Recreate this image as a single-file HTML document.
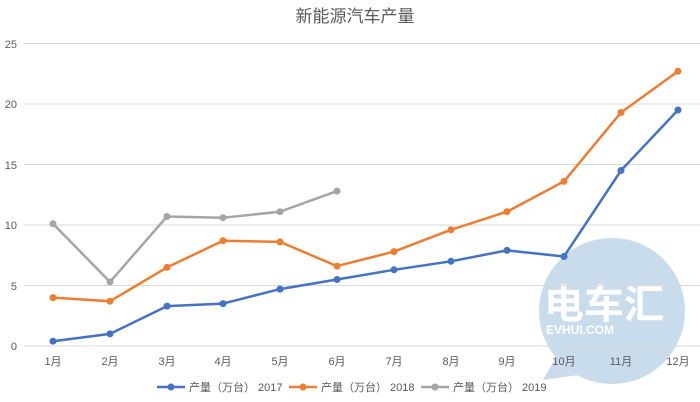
<!DOCTYPE html>
<html><head><meta charset="utf-8"><style>
html,body{margin:0;padding:0;background:#fff;}
svg{display:block;font-family:"Liberation Sans","Noto Sans CJK SC",sans-serif;}
</style></head><body>
<svg width="700" height="402" viewBox="0 0 700 402" xmlns="http://www.w3.org/2000/svg">
<rect width="700" height="402" fill="#fff"/>
<!-- watermark bubble -->
<g fill="#c9dcec">
<circle cx="612" cy="311" r="73"/>
<polygon points="560,350 543,380 600,372"/>
</g>
<text x="604" y="318" text-anchor="middle" font-size="40" font-weight="bold" fill="#fff">电车汇</text>
<text x="580" y="334" text-anchor="middle" font-size="12" font-weight="bold" fill="#fff">EVHUI.COM</text>
<text x="355" y="22" text-anchor="middle" font-size="17" fill="#595959">新能源汽车产量</text>
<g stroke="#d9d9d9" stroke-width="1">
<line x1="24" y1="43.5" x2="700" y2="43.5"/>
<line x1="24" y1="104" x2="700" y2="104"/>
<line x1="24" y1="164.5" x2="700" y2="164.5"/>
<line x1="24" y1="225" x2="700" y2="225"/>
<line x1="24" y1="285.5" x2="700" y2="285.5"/>
<line x1="24" y1="346" x2="700" y2="346"/>
</g>
<g font-size="11" fill="#595959" text-anchor="end">
<text x="17" y="48">25</text><text x="17" y="108">20</text><text x="17" y="169">15</text>
<text x="17" y="229">10</text><text x="17" y="290">5</text><text x="17" y="350">0</text>
</g>
<g font-size="11" fill="#595959" text-anchor="middle">
<text x="53" y="365">1月</text><text x="110" y="365">2月</text><text x="167" y="365">3月</text>
<text x="223" y="365">4月</text><text x="280" y="365">5月</text><text x="337" y="365">6月</text>
<text x="394" y="365">7月</text><text x="451" y="365">8月</text><text x="507" y="365">9月</text>
<text x="564" y="365">10月</text><text x="621" y="365">11月</text><text x="678" y="365">12月</text>
</g>
<g fill="none" stroke-width="2.5" stroke-linejoin="round">
<polyline stroke="#4472c4" points="53,341.2 110,333.9 167,306.1 223,303.6 280,289.1 337,279.5 394,269.8 451,261.3 507,250.4 564,256.5 621,170.5 678,110"/>
<polyline stroke="#ed7d31" points="53,297.6 110,301.2 167,267.4 223,240.7 280,241.9 337,266.1 394,251.6 451,229.8 507,211.7 564,181.4 621,112.5 678,71.3"/>
<polyline stroke="#a5a5a5" points="53,223.8 110,281.9 167,216.5 223,217.7 280,211.7 337,191.1"/>
</g>
<g fill="#4472c4">
<circle cx="53" cy="341.2" r="3.5"/><circle cx="110" cy="333.9" r="3.5"/><circle cx="167" cy="306.1" r="3.5"/><circle cx="223" cy="303.6" r="3.5"/><circle cx="280" cy="289.1" r="3.5"/><circle cx="337" cy="279.5" r="3.5"/><circle cx="394" cy="269.8" r="3.5"/><circle cx="451" cy="261.3" r="3.5"/><circle cx="507" cy="250.4" r="3.5"/><circle cx="564" cy="256.5" r="3.5"/><circle cx="621" cy="170.5" r="3.5"/><circle cx="678" cy="110" r="3.5"/>
</g>
<g fill="#ed7d31">
<circle cx="53" cy="297.6" r="3.5"/><circle cx="110" cy="301.2" r="3.5"/><circle cx="167" cy="267.4" r="3.5"/><circle cx="223" cy="240.7" r="3.5"/><circle cx="280" cy="241.9" r="3.5"/><circle cx="337" cy="266.1" r="3.5"/><circle cx="394" cy="251.6" r="3.5"/><circle cx="451" cy="229.8" r="3.5"/><circle cx="507" cy="211.7" r="3.5"/><circle cx="564" cy="181.4" r="3.5"/><circle cx="621" cy="112.5" r="3.5"/><circle cx="678" cy="71.3" r="3.5"/>
</g>
<g fill="#a5a5a5">
<circle cx="53" cy="223.8" r="3.5"/><circle cx="110" cy="281.9" r="3.5"/><circle cx="167" cy="216.5" r="3.5"/><circle cx="223" cy="217.7" r="3.5"/><circle cx="280" cy="211.7" r="3.5"/><circle cx="337" cy="191.1" r="3.5"/>
</g>
<g font-size="11" fill="#595959">
<line x1="157" y1="387" x2="185" y2="387" stroke="#4472c4" stroke-width="2.5"/><circle cx="171" cy="387" r="3.5" fill="#4472c4"/>
<text x="189" y="391">产量（万台） 2017</text>
<line x1="289" y1="387" x2="317" y2="387" stroke="#ed7d31" stroke-width="2.5"/><circle cx="303" cy="387" r="3.5" fill="#ed7d31"/>
<text x="321" y="391">产量（万台） 2018</text>
<line x1="421" y1="387" x2="449" y2="387" stroke="#a5a5a5" stroke-width="2.5"/><circle cx="435" cy="387" r="3.5" fill="#a5a5a5"/>
<text x="453" y="391">产量（万台） 2019</text>
</g>
</svg>
</body></html>
